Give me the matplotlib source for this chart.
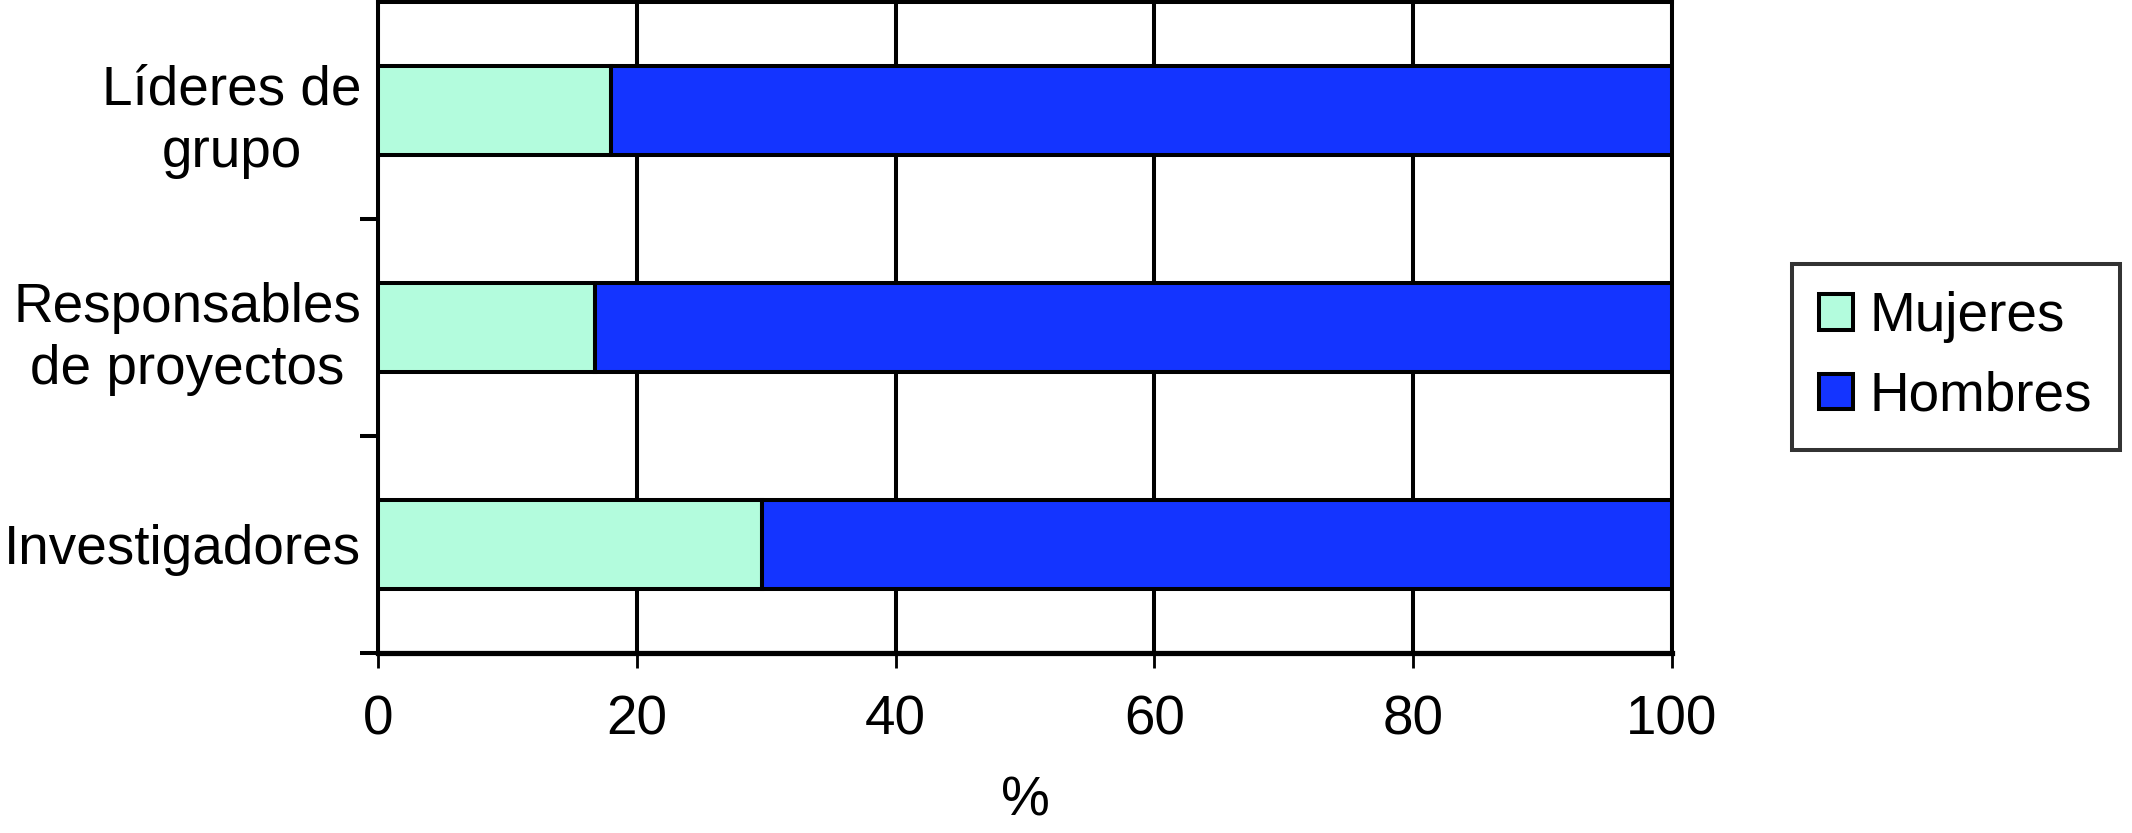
import matplotlib
matplotlib.use("Agg")
import matplotlib.pyplot as plt
import numpy as np

categories = ["Investigadores", "Responsables\nde proyectos", "Líderes de\ngrupo"]
mujeres = [29.7, 16.8, 18.0]
hombres = [70.3, 83.2, 82.0]
xticks = [0, 20, 40, 60, 80, 100]
legend_labels = ["Mujeres", "Hombres"]
colors = ["#B3FCDD", "#1434FF"]

plt.rcParams['font.family'] = ['Liberation Sans', 'DejaVu Sans']
FS = 39.5

fig = plt.figure(figsize=(21.32, 8.33), dpi=100)
ax = fig.add_axes([378/2132, 1-653/833, (1672-378)/2132, 651/833])

ypos = np.arange(len(categories)) + 0.5
lw = 2.9
ax.barh(ypos, mujeres, height=0.41, color=colors[0], edgecolor="black",
        linewidth=lw, label=legend_labels[0], zorder=3)
ax.barh(ypos, hombres, left=mujeres, height=0.41, color=colors[1], edgecolor="black",
        linewidth=lw, label=legend_labels[1], zorder=3)

ax.set_xlim(0, 100)
ax.set_ylim(0, len(categories))
ax.set_xticks(xticks)
ax.set_xticklabels([str(v) for v in xticks], fontsize=FS)
ax.xaxis.grid(True, color="black", linewidth=lw, zorder=1)
ax.set_axisbelow(True)

ax.set_yticks(np.arange(len(categories)))
ax.set_yticklabels([])
ax.set_yticks(ypos, minor=True)
ax.set_yticklabels(categories, minor=True, fontsize=FS)
for t in ax.get_yticklabels(minor=True):
    t.set_multialignment("center")
    t.set_linespacing(1.27)
ax.tick_params(axis="y", which="minor", length=0, pad=12)
ax.tick_params(axis="y", which="major", length=13, width=lw, direction="out")
ax.tick_params(axis="x", which="major", length=11, width=lw * 0.7, direction="out", pad=19)

for s in ax.spines.values():
    s.set_linewidth(lw)
    s.set_color("black")
ax.spines["bottom"].set_linewidth(lw * 1.3)

ax.set_xlabel("%", fontsize=FS, labelpad=21)

leg = ax.legend(loc="center left", bbox_to_anchor=(1792/2132, 1 - 357/833), bbox_transform=fig.transFigure,
                fontsize=FS, frameon=True, fancybox=False, edgecolor="black",
                handlelength=0.62, handleheight=0.62, handletextpad=0.3, borderpad=0.5,
                labelspacing=0.5, borderaxespad=0)
leg.get_frame().set_linewidth(lw)
for h in leg.legend_handles:
    h.set_linewidth(lw)

fig.savefig("out.png", dpi=100)
